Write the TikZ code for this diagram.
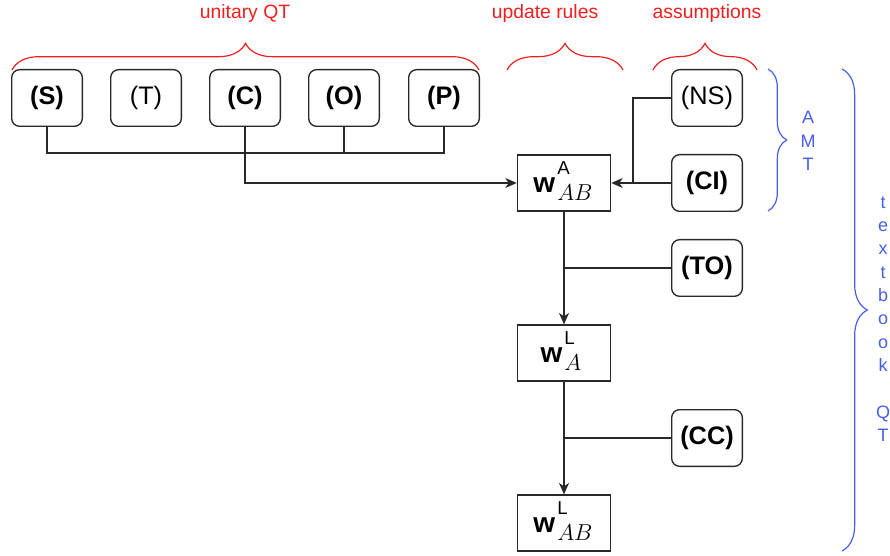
\documentclass[tikz,border=0pt]{standalone}
\usepackage{amsmath}
\usepackage{fontspec}
\setmainfont{Liberation Sans}
\usetikzlibrary{arrows.meta,decorations.pathreplacing}
\definecolor{lred}{RGB}{240,30,30}
\definecolor{lblue}{RGB}{70,95,230}
\definecolor{lgray}{RGB}{40,40,40}
\newcommand\wlab[2]{\textbf{w}\kern1.5pt\rlap{\raisebox{13pt}{\fontsize{14}{16}\selectfont #1}}\raisebox{-6pt}{\fontsize{16.5}{18}\selectfont$#2$}}
\begin{document}
\begin{tikzpicture}[x=0.75pt,y=-0.75pt,
  ax/.style={draw=lgray,line width=1pt,rounded corners=6pt,minimum width=53pt,minimum height=42.5pt,font=\fontsize{19}{22}\selectfont,inner sep=0pt},
  wbox/.style={draw=lgray,line width=1pt,minimum width=70pt,minimum height=42pt,inner sep=0pt},
  wtxt/.style={font=\fontsize{21}{24}\selectfont,inner sep=0pt},
  con/.style={draw=lgray,line width=1pt},
  arr/.style={con,-{Stealth[length=8.5pt,width=7.5pt,inset=2.5pt]}},
  rbrace/.style={draw=lred,line width=0.9pt,decorate,decoration={brace,amplitude=20pt}},
  bbrace/.style={draw=lblue,line width=0.9pt,decorate,decoration={brace,amplitude=#1}},
  rlab/.style={text=lred,font=\fontsize{14.5}{17}\selectfont},
  blab/.style={text=lblue,font=\fontsize{13.5}{17.5}\selectfont,align=center,inner sep=0pt}
]
\useasboundingbox (0,0) rectangle (890,556);
% top row
\node[ax] (S) at (47,98) {\textbf{(S)}};
\node[ax] (T) at (146,98) {(T)};
\node[ax] (C) at (245,98) {\textbf{(C)}};
\node[ax] (O) at (344,98) {\textbf{(O)}};
\node[ax] (P) at (444,98) {\textbf{(P)}};
% assumptions
\node[ax] (NS) at (707,98) {(NS)};
\node[ax] (CI) at (707,183) {\textbf{(CI)}};
\node[ax] (TO) at (707,268) {\textbf{(TO)}};
\node[ax] (CC) at (707,438) {\textbf{(CC)}};
% w boxes
\node[wbox] (wAB) at (564,183) {};
\node[wbox] (wLA) at (564,353) {};
\node[wbox] (wLAB) at (564,523) {};
\node[wtxt] (tAB) at (563,181) {\wlab{A}{AB}};
\node[wtxt] (tLA) at (561,351) {\wlab{L}{A}};
\node[wtxt] (tLAB) at (563,521) {\wlab{L}{AB}};
% connectors
\coordinate (j) at (0,153);
\coordinate (k) at (633,0);
\draw[con] (S.south) -- (S.south |- j) -- (P.south |- j) -- (P.south);
\draw[con] (O.south) -- (O.south |- j);
\draw[arr] (C.south) |- (wAB.west);
\draw[arr] (CI.west) -- (wAB.east);
\draw[con] (NS.west) -| (k |- CI.west);
\draw[arr] (wAB.south) -- (wLA.north);
\draw[con] (TO.west) -- (TO.west -| wAB.south);
\draw[arr] (wLA.south) -- (wLAB.north);
\draw[con] (CC.west) -- (CC.west -| wLA.south);
% red braces
\coordinate (b1a) at (12,70); \coordinate (b1b) at (479,70);
\coordinate (b2a) at (507,70); \coordinate (b2b) at (623,70);
\coordinate (b3a) at (653,70); \coordinate (b3b) at (757,70);
\draw[rbrace] (b1a) -- (b1b);
\draw[rbrace] (b2a) -- (b2b);
\draw[rbrace] (b3a) -- (b3b);
\node[rlab] (l1) at (245,14) {unitary QT};
\node[rlab] (l2) at (545,14) {update rules};
\node[rlab] (l3) at (707,14) {assumptions};
% blue braces
\coordinate (c1a) at (768,69); \coordinate (c1b) at (768,211);
\coordinate (c2a) at (842,69); \coordinate (c2b) at (842,551);
\draw[bbrace=14pt] (c1a) -- (c1b);
\draw[bbrace=19pt] (c2a) -- (c2b);
\node[blab] (amt) at (808,141) {A\\M\\T};
\node[blab] (tqt) at (883,319) {t\\e\\x\\t\\b\\o\\o\\k\\\mbox{}\\Q\\T};
\end{tikzpicture}
\end{document}
